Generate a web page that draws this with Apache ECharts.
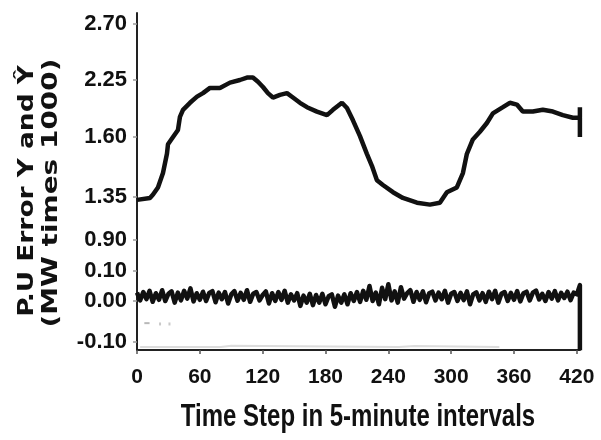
<!DOCTYPE html>
<html>
<head>
<meta charset="utf-8">
<script src="https://cdn.jsdelivr.net/npm/echarts@6/dist/echarts.min.js"></script>
<style>
html,body{margin:0;padding:0;background:#fff;}
#chart{width:601px;height:440px;}
</style>
</head>
<body>
<div id="chart"></div>
<script>
// ---- tick labels ----
const xTickValues = [0, 60, 120, 180, 240, 300, 360, 420];
const yTickLabels = ['-0.10', '0.00', '0.10', '0.90', '1.35', '1.60', '2.25', '2.70'];
const yTickValues = [-0.10, 0.00, 0.10, 0.90, 1.35, 1.60, 2.25, 2.70];
// the printed y scale is not linear: where each tick sits, in % of axis height
const yTickLevels = [2.37, 14.54, 23.44, 32.64, 45.40, 63.20, 80.12, 96.74];

const xTitle = 'Time Step in 5-minute intervals';
const yTitleLines = ['P.U Error Y and Ŷ', '(MW times 1000)'];

// ---- upper series (Y / Y-hat) ----
const upperT = [0,12.4,15.3,20,24.8,28.6,29.6,34.4,39.1,41,43.9,50.6,57.3,63,69.7,79.2,88.8,98.3,105,110.7,115.5,120.3,125,129.8,136.5,143.2,148.9,155.6,162.3,171.8,181.4,187.1,195.7,200.5,206.2,212.9,219.5,224.3,229.1,234.8,244.4,253.9,267.3,279.7,289.2,295.9,305.4,311.2,315,320.7,327.4,334.1,339.8,349.4,356,362.7,368.4,378,387.5,397.1,406.6,416.2,422.9,422.9,422.9];
const upperY = [1.32,1.34,1.36,1.39,1.45,1.53,1.57,1.60,1.68,1.83,1.91,1.99,2.06,2.10,2.16,2.16,2.22,2.25,2.27,2.27,2.23,2.17,2.10,2.05,2.08,2.10,2.05,1.99,1.94,1.89,1.85,1.91,1.99,1.93,1.79,1.61,1.53,1.48,1.42,1.40,1.37,1.34,1.29,1.27,1.29,1.37,1.39,1.45,1.53,1.59,1.66,1.76,1.87,1.94,1.99,1.97,1.89,1.89,1.91,1.89,1.85,1.82,1.82,1.94,1.60];

// ---- lower series (P.U error), one value every 3 steps ----
const lowerStep = 3;
const lowerVals = [
 0.028,0.002,0.030,0.006,0.034,-0.002,0.026,0.004,0.036,0.000,
 0.024,0.032,-0.004,0.028,0.002,0.034,0.008,0.042,-0.001,0.026,
 0.004,0.031,0.000,0.027,0.033,-0.003,0.028,0.006,0.030,-0.006,
 0.022,0.033,0.001,0.027,0.004,0.036,-0.002,0.024,0.030,0.002,
 0.020,0.032,-0.006,0.026,0.000,0.030,0.004,0.034,-0.004,0.022,
 0.002,0.026,-0.012,0.018,-0.004,0.024,-0.010,0.020,-0.004,0.024,
 -0.008,0.016,0.022,-0.014,0.018,-0.004,0.022,-0.008,0.026,0.000,
 0.030,-0.002,0.034,0.004,0.050,0.000,0.028,-0.008,0.044,0.006,
 0.056,0.002,0.032,-0.004,0.046,0.008,0.026,0.036,-0.002,0.030,
 0.004,0.032,-0.003,0.026,0.031,0.002,0.028,0.006,0.034,-0.004,
 0.024,0.030,0.000,0.027,0.003,0.032,-0.008,0.022,0.029,0.002,
 0.026,-0.002,0.031,0.006,0.034,-0.004,0.024,0.030,0.000,0.027,
 0.004,0.033,-0.001,0.026,0.031,0.002,0.028,0.035,0.005,0.024,
 0.000,0.030,0.008,0.033,0.002,0.027,0.010,0.031,0.003,0.028,
 0.022
];
const lowerEndT = [422.9, 422.9];
const lowerEndY = [0.053, -0.12];

// ---- faint grey traces ----
const faintDashT = [7, 12];
const faintDashY = [-0.054, -0.054];
const faintDotT = [22, 31];
const faintDotY = [-0.056, -0.056];
const faintBaseT = [3, 80, 90, 250, 265, 346];
const faintBaseY = [-0.112, -0.112, -0.109, -0.112, -0.110, -0.112];

// map a value on the printed (non-linear) scale to axis level
function toLevel(v) {
  const n = yTickValues.length;
  let i = 0;
  if (v <= yTickValues[0]) i = 0;
  else if (v >= yTickValues[n - 1]) i = n - 2;
  else { while (!(v >= yTickValues[i] && v <= yTickValues[i + 1])) i++; }
  const f = (v - yTickValues[i]) / (yTickValues[i + 1] - yTickValues[i]);
  return yTickLevels[i] + f * (yTickLevels[i + 1] - yTickLevels[i]);
}
function zip(ts, vs) { return ts.map((t, k) => [t, toLevel(vs[k])]); }

const lowerData = lowerVals.map((v, k) => [k * lowerStep, toLevel(v)])
  .concat(zip(lowerEndT, lowerEndY));

const chart = echarts.init(document.getElementById('chart'), null, {renderer: 'canvas'});
const sansFam = '"Liberation Sans", Arial, sans-serif';

chart.setOption({
  animation: false,
  backgroundColor: '#fff',
  grid: {left: 137, right: 21, top: 13, bottom: 90, containLabel: false},
  xAxis: {
    type: 'value', min: 0, max: 423,
    axisLine: {show: true, lineStyle: {color: '#222', width: 2}},
    axisTick: {show: true, customValues: xTickValues, length: 4, lineStyle: {color: '#555', width: 1.5}},
    axisLabel: {customValues: xTickValues, margin: 17, fontFamily: sansFam, fontWeight: 'bold', fontSize: 21, color: '#111'},
    splitLine: {show: false}
  },
  yAxis: {
    type: 'value', min: 0, max: 100,
    axisLine: {show: true, lineStyle: {color: '#222', width: 2}},
    axisTick: {show: true, customValues: yTickLevels, length: 4, lineStyle: {color: '#999', width: 1.5}},
    axisLabel: {
      customValues: yTickLevels, margin: 10,
      fontFamily: sansFam, fontWeight: 'bold', fontSize: 22, color: '#111',
      formatter: function (v) {
        let best = 0;
        yTickLevels.forEach((l, k) => { if (Math.abs(l - v) < Math.abs(yTickLevels[best] - v)) best = k; });
        return yTickLabels[best];
      }
    },
    splitLine: {show: false}
  },
  graphic: [
    {type: 'text', x: 358, y: 418, scaleY: 1.28,
     style: {text: xTitle, font: 'bold 24px "Liberation Sans"', fill: '#111', align: 'center', verticalAlign: 'middle'}},
    {type: 'text', x: 27, y: 191, rotation: Math.PI / 2, scaleX: 1.2,
     style: {text: yTitleLines[0], font: 'bold 22px "DejaVu Sans"', fill: '#111', align: 'center', verticalAlign: 'middle'}},
    {type: 'text', x: 51, y: 193, rotation: Math.PI / 2, scaleX: 1.27,
     style: {text: yTitleLines[1], font: 'bold 22px "DejaVu Sans"', fill: '#111', align: 'center', verticalAlign: 'middle'}}
  ],
  series: [
    {type: 'line', data: zip(faintBaseT, faintBaseY), showSymbol: false, silent: true,
     lineStyle: {color: '#dcdcdc', width: 2}, z: 1},
    {type: 'line', data: zip(faintDashT, faintDashY), showSymbol: false, silent: true,
     lineStyle: {color: '#b8b8b8', width: 2}, z: 1},
    {type: 'scatter', data: zip(faintDotT, faintDotY), symbol: 'rect', symbolSize: [2, 3], silent: true,
     itemStyle: {color: '#bbb'}, z: 1},
    {type: 'line', data: lowerData, showSymbol: false, silent: true,
     lineStyle: {color: '#111', width: 4.5, join: 'round'}, z: 3},
    {type: 'line', data: zip(upperT, upperY), showSymbol: false, silent: true,
     lineStyle: {color: '#111', width: 4.5}, z: 3}
  ]
});
</script>
</body>
</html>
